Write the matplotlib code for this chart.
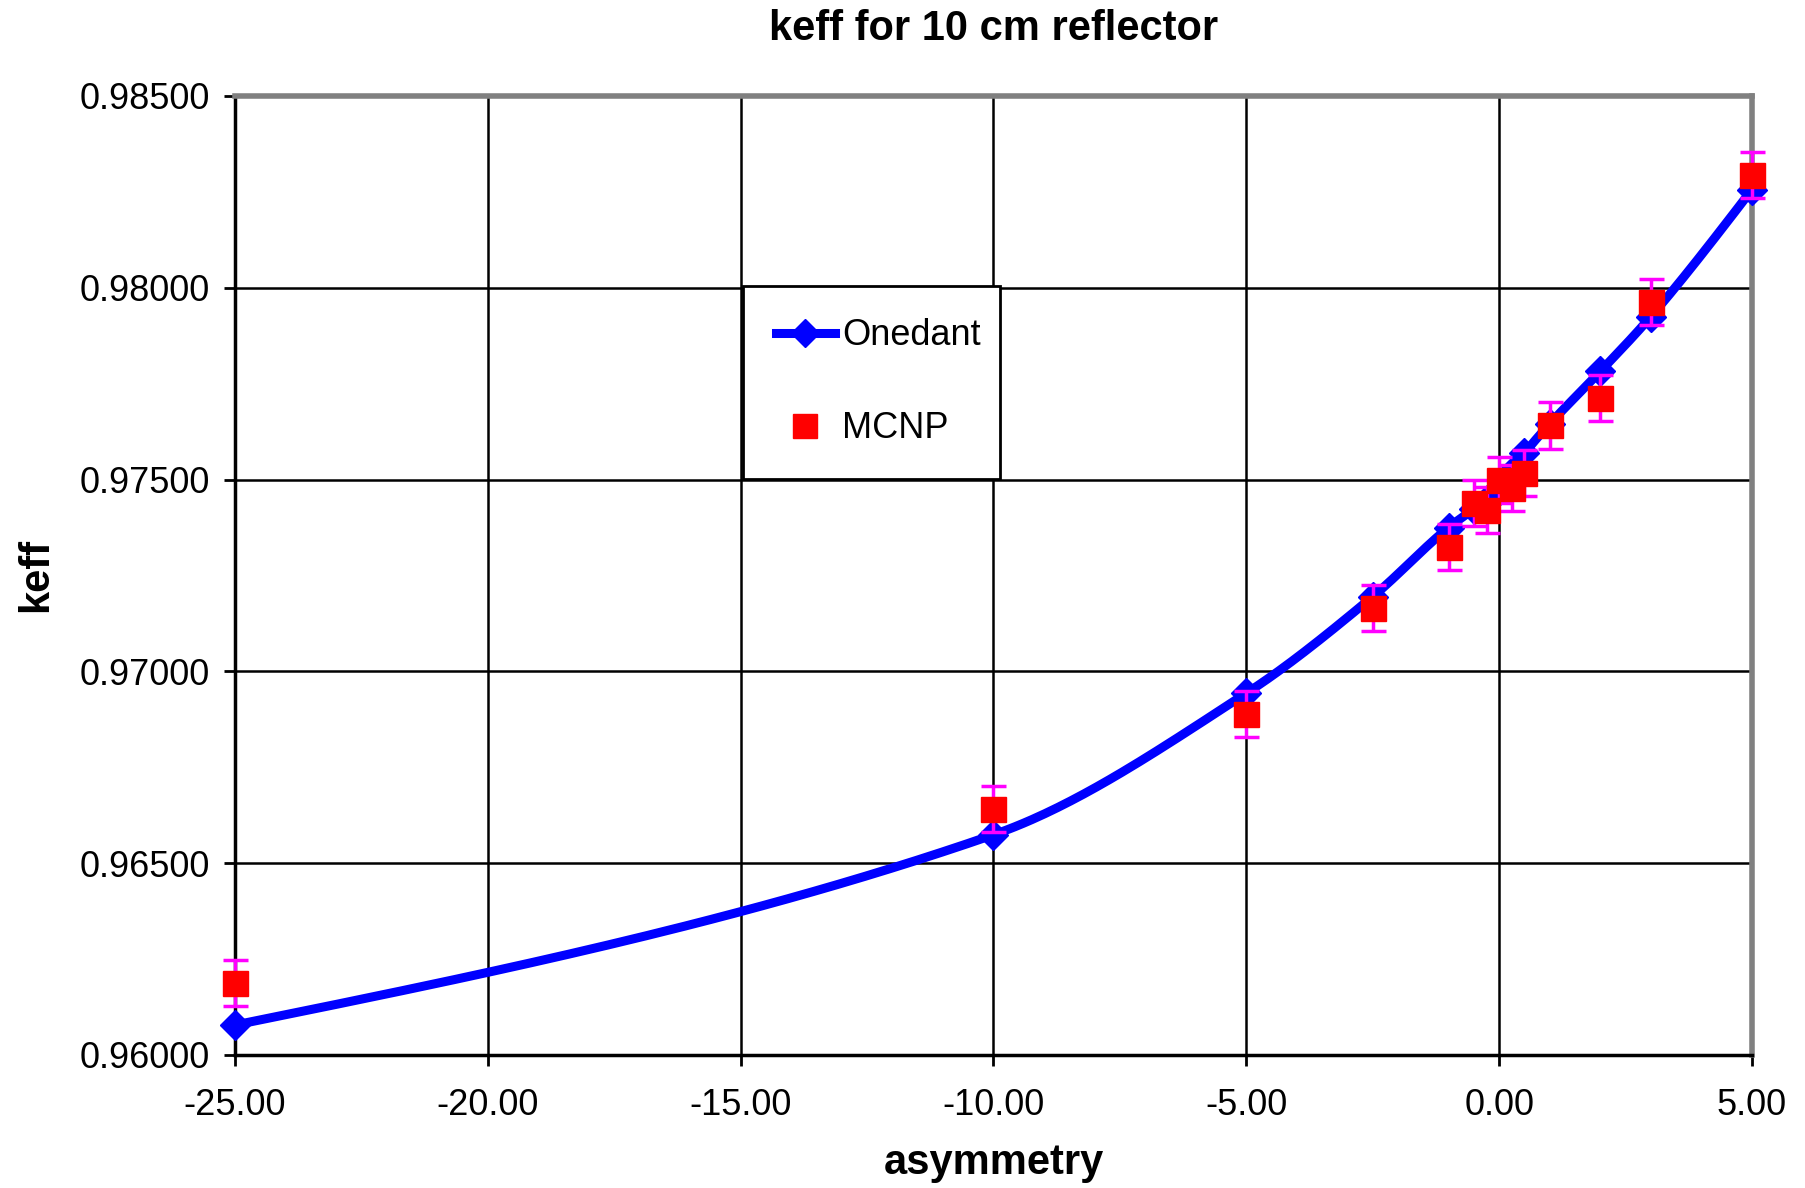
import matplotlib
matplotlib.use("Agg")
import matplotlib.pyplot as plt
import numpy as np
from matplotlib.ticker import FormatStrFormatter, MultipleLocator

plt.rcParams['font.family'] = ['Liberation Sans', 'DejaVu Sans']

# asymmetry values
asym = [-25, -10, -5, -2.5, -1, -0.5, -0.25, 0, 0.25, 0.5, 1, 2, 3, 5]
# Onedant keff
onedant = [0.96078, 0.96574, 0.96943, 0.97195, 0.97375, 0.97423, 0.97447,
           0.97470, 0.97520, 0.97568, 0.97645, 0.97782, 0.97925, 0.98256]
# MCNP keff and 1-sigma
mcnp = [0.96188, 0.96642, 0.96889, 0.97166, 0.97323, 0.97440, 0.97420,
        0.97498, 0.97479, 0.97516, 0.97641, 0.97713, 0.97963, 0.98293]
mcnp_err = [0.0006] * len(asym)


def smooth(xs, ys, n=60):
    # smoothed line through the points (cubic hermite, harmonic-mean slopes)
    x = np.asarray(xs, float)
    y = np.asarray(ys, float)
    h = np.diff(x)
    d = np.diff(y) / h
    m = np.zeros_like(x)
    for i in range(1, len(x) - 1):
        if d[i - 1] * d[i] > 0:
            m[i] = 2 / (1 / d[i - 1] + 1 / d[i])
    m[0] = (3 * d[0] - m[1]) / 2
    m[-1] = (3 * d[-1] - m[-2]) / 2
    px, py = [], []
    for i in range(len(x) - 1):
        t = np.linspace(0, 1, n)
        h00 = 2 * t**3 - 3 * t**2 + 1
        h10 = t**3 - 2 * t**2 + t
        h01 = -2 * t**3 + 3 * t**2
        h11 = t**3 - t**2
        px.append(x[i] + t * h[i])
        py.append(h00 * y[i] + h10 * h[i] * m[i] + h01 * y[i + 1] + h11 * h[i] * m[i + 1])
    return np.concatenate(px), np.concatenate(py)


fig = plt.figure(figsize=(18.06, 11.88), dpi=100)
ax = fig.add_axes([0.1301, 0.1120, 0.8400, 0.8072])

sx, sy = smooth(asym, onedant)
ax.plot(sx, sy, color='#0000ff', lw=6.5, zorder=3, solid_capstyle='round',
        clip_on=False)
ax.plot(asym, onedant, ls='none', marker='D', ms=15, color='#0000ff', zorder=3,
        clip_on=False)
eb = ax.errorbar(asym, mcnp, yerr=mcnp_err, fmt='none', ecolor='#ff00ff',
                 elinewidth=2.5, capsize=9, capthick=2.5, zorder=4)
for art in eb.lines[1] + eb.lines[2]:
    art.set_clip_on(False)
ax.plot(asym, mcnp, ls='none', marker='s', ms=18, color='#ff0000', zorder=5,
        clip_on=False)

# legend handles
h1, = ax.plot([], [], color='#0000ff', lw=6.5, marker='D', ms=14, label='Onedant')
h2, = ax.plot([], [], ls='none', marker='s', ms=17, color='#ff0000', label='MCNP')
leg = ax.legend(handles=[h1, h2], loc='upper left',
                bbox_to_anchor=(0.335, 0.602, 0.169, 0.2), mode='expand',
                borderaxespad=0, fontsize=26, labelspacing=1.6, borderpad=0.9,
                handlelength=1.65, handletextpad=0.2, fancybox=False,
                framealpha=1, edgecolor='black')
leg.get_frame().set_linewidth(2)
leg.set_zorder(6)

ax.set_xlim(-25, 5)
ax.set_ylim(0.96, 0.985)
ax.xaxis.set_major_locator(MultipleLocator(5))
ax.yaxis.set_major_locator(MultipleLocator(0.005))
ax.xaxis.set_major_formatter(FormatStrFormatter('%.2f'))
ax.yaxis.set_major_formatter(FormatStrFormatter('%.5f'))
ax.tick_params(labelsize=26, direction='out', length=8, width=2)
ax.tick_params(axis='x', pad=16)
ax.tick_params(axis='y', pad=10)
ax.grid(True, color='black', lw=1.8)
ax.set_axisbelow(True)

for s in ['left', 'bottom']:
    ax.spines[s].set_linewidth(2.5)
    ax.spines[s].set_color('black')
for s in ['top', 'right']:
    ax.spines[s].set_linewidth(4)
    ax.spines[s].set_color('#808080')

ax.set_title('keff for 10 cm reflector', fontsize=30, fontweight='bold', pad=40)
ax.set_xlabel('asymmetry', fontsize=30, fontweight='bold', labelpad=14)
ax.set_ylabel('keff', fontsize=30, fontweight='bold', labelpad=17)

fig.savefig('out.png', dpi=100)
